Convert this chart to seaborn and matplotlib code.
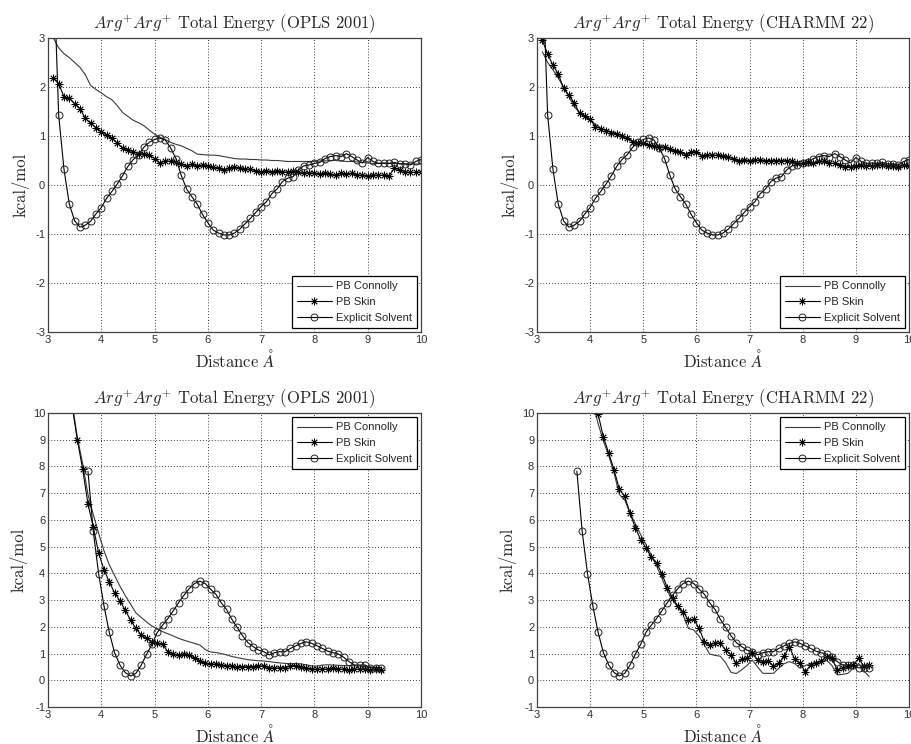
import numpy as np
import pandas as pd
import matplotlib
matplotlib.use("Agg")
import matplotlib.pyplot as plt
import seaborn as sns

# ---------------------------------------------------------------- data
# Upper row: distance grid 3.1 .. 10.0 A
dist_top = np.round(np.arange(3.1, 10.0001, 0.1), 2)

explicit_top = [4.6, 1.43, 0.32, -0.39, -0.73, -0.86, -0.82, -0.74, -0.59, -0.46,
                -0.27, -0.13, 0.02, 0.19, 0.38, 0.52, 0.62, 0.77, 0.87, 0.93,
                0.96, 0.92, 0.76, 0.54, 0.20, -0.08, -0.24, -0.39, -0.60, -0.77,
                -0.92, -0.98, -1.02, -1.02, -0.98, -0.90, -0.79, -0.68, -0.56, -0.44,
                -0.34, -0.18, -0.08, 0.07, 0.14, 0.17, 0.31, 0.39, 0.41, 0.44,
                0.46, 0.54, 0.58, 0.60, 0.58, 0.64, 0.58, 0.51, 0.45, 0.56,
                0.48, 0.44, 0.45, 0.44, 0.46, 0.43, 0.43, 0.41, 0.48, 0.52]

connolly_opls_top = [3.0, 2.80, 2.68, 2.60, 2.50, 2.40, 2.25, 2.03, 1.95, 1.88,
                     1.80, 1.74, 1.62, 1.48, 1.40, 1.32, 1.27, 1.21, 1.12, 1.04,
                     0.97, 0.93, 0.87, 0.83, 0.80, 0.75, 0.70, 0.63, 0.62, 0.61,
                     0.61, 0.60, 0.58, 0.56, 0.54, 0.53, 0.53, 0.52, 0.52, 0.51,
                     0.51, 0.50, 0.50, 0.49, 0.48, 0.48, 0.48, 0.48, 0.48, 0.48,
                     0.49, 0.49, 0.50, 0.50, 0.49, 0.48, 0.48, 0.47, 0.46, 0.45,
                     0.44, 0.44, 0.44, 0.44, 0.44, 0.44, 0.43, 0.43, 0.43, 0.43]

skin_opls_top = [2.19, 2.07, 1.80, 1.77, 1.66, 1.56, 1.36, 1.26, 1.17, 1.09,
                 1.02, 0.95, 0.86, 0.75, 0.71, 0.68, 0.64, 0.63, 0.61, 0.54,
                 0.44, 0.50, 0.48, 0.46, 0.42, 0.39, 0.42, 0.39, 0.41, 0.39,
                 0.36, 0.34, 0.31, 0.34, 0.37, 0.34, 0.33, 0.32, 0.29, 0.27,
                 0.29, 0.27, 0.29, 0.27, 0.26, 0.29, 0.26, 0.24, 0.25, 0.24,
                 0.22, 0.24, 0.22, 0.20, 0.24, 0.22, 0.24, 0.20, 0.20, 0.19,
                 0.20, 0.20, 0.20, 0.19, 0.34, 0.31, 0.27, 0.26, 0.26, 0.26]

connolly_charmm_top = [2.72, 2.50, 2.35, 2.18, 2.00, 1.80, 1.60, 1.48, 1.38, 1.32,
                       1.24, 1.16, 1.12, 1.08, 1.05, 1.01, 0.96, 0.90, 0.87, 0.85,
                       0.82, 0.79, 0.77, 0.76, 0.73, 0.70, 0.68, 0.63, 0.66, 0.66,
                       0.60, 0.60, 0.60, 0.60, 0.59, 0.57, 0.53, 0.49, 0.50, 0.50,
                       0.50, 0.50, 0.49, 0.49, 0.49, 0.48, 0.48, 0.46, 0.43, 0.43,
                       0.45, 0.45, 0.47, 0.47, 0.45, 0.44, 0.42, 0.38, 0.38, 0.40,
                       0.41, 0.40, 0.40, 0.41, 0.41, 0.40, 0.40, 0.38, 0.40, 0.40]

skin_charmm_top = [2.95, 2.68, 2.44, 2.27, 1.97, 1.83, 1.68, 1.46, 1.41, 1.34,
                   1.19, 1.15, 1.11, 1.07, 1.05, 1.00, 0.95, 0.88, 0.85, 0.85,
                   0.81, 0.80, 0.78, 0.77, 0.73, 0.70, 0.68, 0.61, 0.68, 0.68,
                   0.60, 0.61, 0.61, 0.61, 0.60, 0.58, 0.54, 0.49, 0.51, 0.50,
                   0.51, 0.51, 0.50, 0.50, 0.50, 0.49, 0.50, 0.48, 0.44, 0.44,
                   0.46, 0.44, 0.48, 0.48, 0.44, 0.44, 0.41, 0.37, 0.37, 0.39,
                   0.41, 0.39, 0.39, 0.41, 0.41, 0.39, 0.39, 0.37, 0.41, 0.39]

# Lower row: distance grid 3.45 .. 9.25 A
dist_bot = np.round(np.arange(3.45, 9.2501, 0.1), 2)

explicit_bot = [7.82, 5.57, 3.99, 2.79, 1.79, 1.03, 0.57, 0.29, 0.16, 0.26,
                0.57, 0.97, 1.34, 1.79, 2.06, 2.31, 2.60, 2.90, 3.18, 3.43,
                3.62, 3.71, 3.62, 3.41, 3.22, 2.90, 2.65, 2.28, 1.98, 1.67,
                1.41, 1.26, 1.13, 1.07, 0.95, 1.03, 1.07, 1.07, 1.19, 1.29,
                1.38, 1.44, 1.38, 1.29, 1.19, 1.09, 1.03, 0.98, 0.86, 0.70,
                0.57, 0.57, 0.57, 0.47, 0.47, 0.47]          # from 3.75 A

connolly_opls_bot = [10.4, 9.1, 8.1, 6.95, 6.2, 5.5, 4.85, 4.32, 3.92, 3.52,
                     3.17, 2.85, 2.52, 2.35, 2.18, 2.03, 1.93, 1.82, 1.74, 1.66,
                     1.57, 1.50, 1.44, 1.38, 1.32, 1.15, 1.06, 1.04, 1.00, 0.95,
                     0.89, 0.85, 0.81, 0.77, 0.75, 0.73, 0.72, 0.70, 0.67, 0.65,
                     0.63, 0.62, 0.63, 0.61, 0.58, 0.54, 0.53, 0.57, 0.58, 0.57,
                     0.56, 0.55, 0.55, 0.54, 0.53, 0.51, 0.50, 0.49, 0.47]

skin_opls_bot = [10.3, 9.0, 7.91, 6.60, 5.73, 4.76, 4.14, 3.68, 3.27, 2.97,
                 2.62, 2.25, 1.94, 1.69, 1.57, 1.44, 1.38, 1.34, 1.07, 0.97,
                 0.95, 0.98, 0.95, 0.82, 0.72, 0.63, 0.61, 0.60, 0.57, 0.55,
                 0.53, 0.51, 0.51, 0.51, 0.51, 0.55, 0.53, 0.47, 0.45, 0.47,
                 0.47, 0.55, 0.55, 0.51, 0.47, 0.42, 0.41, 0.42, 0.42, 0.45,
                 0.42, 0.41, 0.39, 0.41, 0.41, 0.41, 0.39, 0.41, 0.39]

connolly_charmm_bot = [10.4, 9.6, 8.95, 8.4, 7.75, 6.95, 6.75, 6.25, 5.86, 5.45,
                       5.08, 4.68, 4.28, 3.82, 3.35, 3.0, 2.75, 2.45, 1.94, 1.88,
                       1.65, 1.32, 0.98, 0.93, 0.90, 0.65, 0.30, 0.25, 0.39, 0.55,
                       0.76, 0.50, 0.26, 0.26, 0.26, 0.45, 0.62, 0.70, 0.62, 0.45,
                       0.55, 0.63, 0.66, 0.70, 0.75, 0.55, 0.20, 0.22, 0.26, 0.45,
                       0.63, 0.35, 0.14]                       # from 4.05 A

skin_charmm_bot = [9.96, 9.09, 8.50, 7.87, 7.14, 6.88, 6.26, 5.71, 5.26, 4.95,
                   4.61, 4.39, 3.99, 3.47, 3.08, 2.77, 2.56, 2.25, 2.28, 1.94,
                   1.44, 1.32, 1.41, 1.38, 1.13, 0.95, 0.63, 0.78, 0.82, 1.01,
                   0.76, 0.70, 0.72, 0.53, 0.63, 0.91, 1.26, 0.78, 0.63, 0.32,
                   0.57, 0.63, 0.73, 0.88, 0.82, 0.39, 0.45, 0.53, 0.57, 0.82,
                   0.53, 0.57]                                 # from 4.15 A

labels = ["PB Connolly", "PB Skin", "Explicit Solvent"]
titles = [r"$Arg^{+}Arg^{+}$ Total Energy (OPLS 2001)",
          r"$Arg^{+}Arg^{+}$ Total Energy (CHARMM 22)"]

# ---------------------------------------------------------------- style
sns.set_style("white")
plt.rcParams.update({
    "font.family": ["Liberation Sans", "DejaVu Sans"],
    "mathtext.fontset": "cm",
    "axes.edgecolor": "#404040",
    "axes.linewidth": 0.9,
    "xtick.color": "#303030",
    "ytick.color": "#303030",
    "xtick.labelsize": 8,
    "ytick.labelsize": 8,
    "xtick.direction": "in",
    "ytick.direction": "in",
    "axes.unicode_minus": False,
})

fig = plt.figure(figsize=(9.11, 7.44), dpi=100)
W, H = 911, 744
def rect(x0, y0, x1, y1):
    return [x0 / W, 1 - y1 / H, (x1 - x0) / W, (y1 - y0) / H]

axes = {
    (0, 0): fig.add_axes(rect(48, 38, 421, 332)),
    (0, 1): fig.add_axes(rect(537, 38, 909, 332)),
    (1, 0): fig.add_axes(rect(48, 413, 421, 707)),
    (1, 1): fig.add_axes(rect(537, 413, 909, 707)),
}

panels = {
    (0, 0): [(dist_top, connolly_opls_top), (dist_top, skin_opls_top), (dist_top, explicit_top)],
    (0, 1): [(dist_top, connolly_charmm_top), (dist_top, skin_charmm_top), (dist_top, explicit_top)],
    (1, 0): [(dist_bot, connolly_opls_bot), (dist_bot, skin_opls_bot), (dist_bot[3:], explicit_bot)],
    (1, 1): [(dist_bot[6:], connolly_charmm_bot), (dist_bot[7:], skin_charmm_bot), (dist_bot[3:], explicit_bot)],
}

asterisk = (8, 2, 0)   # MATLAB-like '*' : plus and cross overlaid
styles = [
    dict(color="#3a3a3a", linewidth=0.8, marker=None),
    dict(color="black", linewidth=0.8, marker=asterisk, markersize=5.5,
         markeredgewidth=0.6, markerfacecolor="black", markeredgecolor="black"),
    dict(color="black", linewidth=0.8, marker="o", markersize=5,
         markeredgewidth=0.7, markerfacecolor="none", markeredgecolor="#202020"),
]

cm_text = dict(family="cmr10")

for (r, c), ax in axes.items():
    for (xs, ys), lab, st in zip(panels[(r, c)], labels, styles):
        df = pd.DataFrame({"Distance": xs, "Energy": ys})
        sns.lineplot(data=df, x="Distance", y="Energy", ax=ax, label=lab,
                     sort=False, estimator=None, **st)
    ax.set_xlim(3, 10)
    if r == 0:
        ax.set_ylim(-3, 3)
        ax.set_yticks(range(-3, 4))
        loc = "lower right"
    else:
        ax.set_ylim(-1, 10)
        ax.set_yticks(range(-1, 11))
        loc = "upper right"
    ax.set_xticks(range(3, 11))
    ax.grid(True, color="black", linestyle=(0, (1, 2.5)), linewidth=0.6)
    ax.tick_params(length=0, pad=2)
    for s in ax.spines.values():
        s.set_visible(True)
    ax.set_title(titles[c], fontsize=12, pad=7, **cm_text)
    ax.set_xlabel(r"Distance $\AA$", fontsize=12, labelpad=2, **cm_text)
    ax.set_ylabel("kcal/mol", fontsize=12, labelpad=4, **cm_text)
    leg = ax.legend(loc=loc, fontsize=8, frameon=True, fancybox=False,
                    edgecolor="black", framealpha=1, handlelength=3.2,
                    handletextpad=0.3, labelspacing=0.5, borderpad=0.45,
                    borderaxespad=0.4)
    leg.get_frame().set_linewidth(0.9)

fig.savefig("out.png", dpi=100)
